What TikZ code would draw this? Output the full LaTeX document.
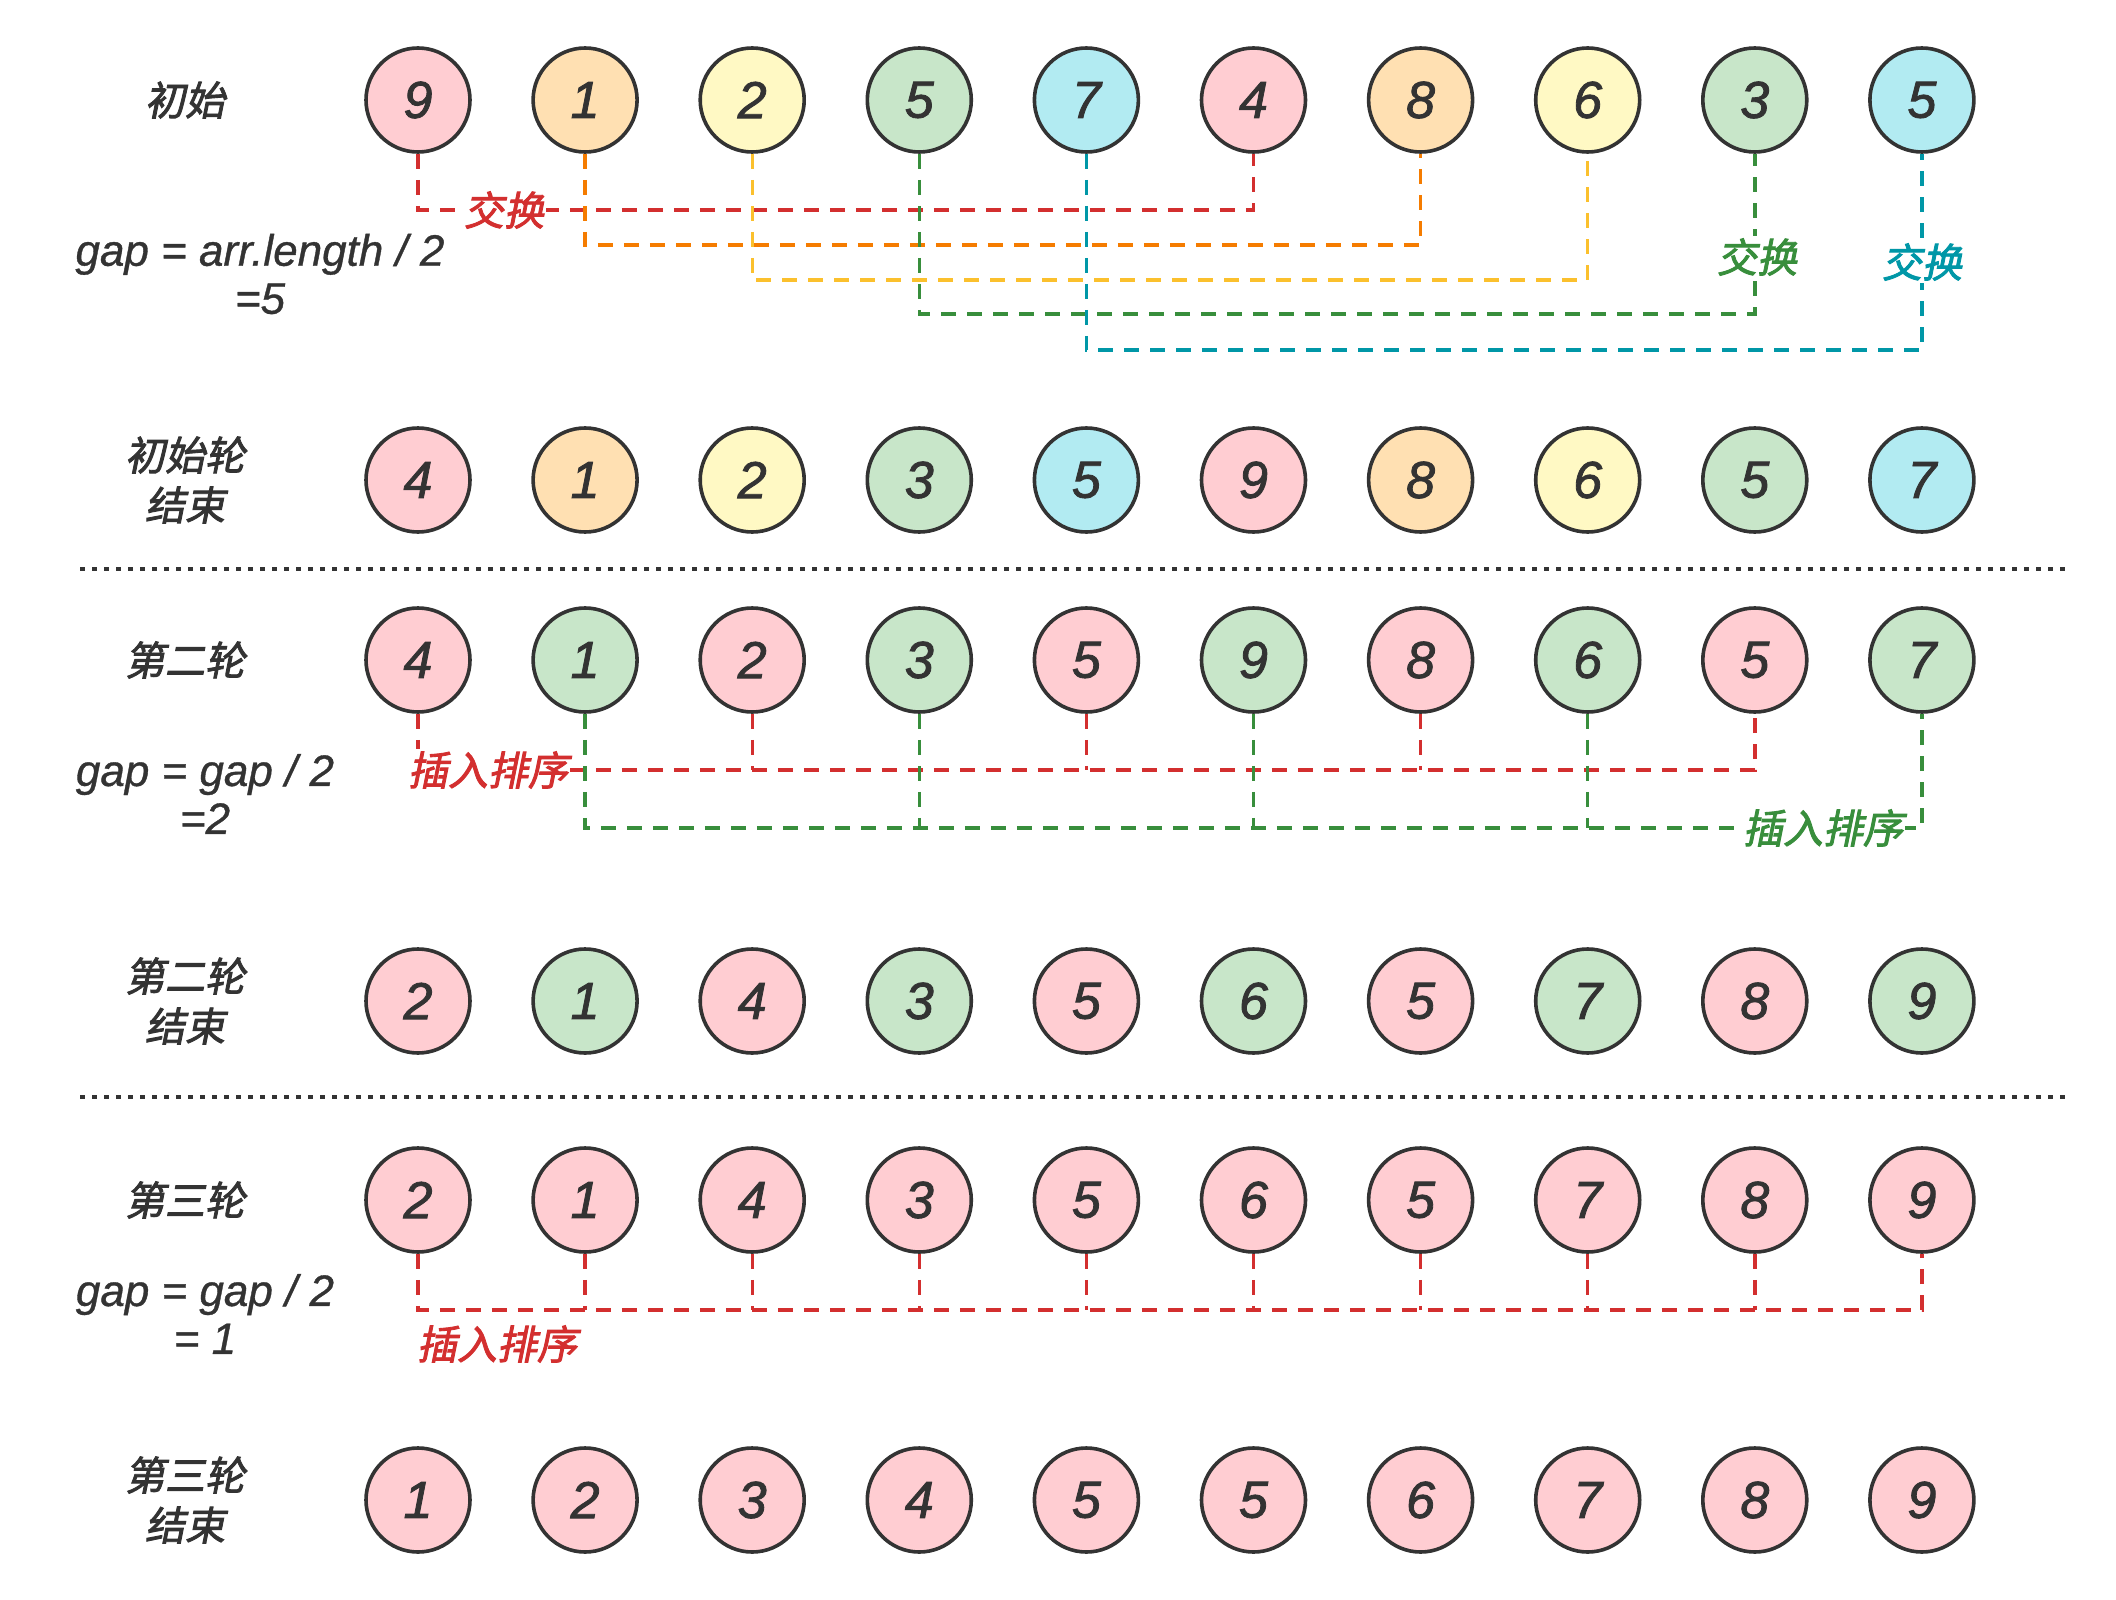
\documentclass[tikz,border=0pt]{standalone}
\usepackage{fontspec}
\setmainfont{Liberation Sans}
\newfontfamily\digitfont[FakeBold=1.6]{Liberation Sans}
\newfontfamily\gapfont[FakeBold=0.8]{Liberation Sans}
\newfontfamily\cjk[FakeSlant=0.2,FakeBold=2.2]{Noto Sans CJK SC}
\definecolor{ink}{HTML}{333333}
\definecolor{fP}{HTML}{FFCDD2}
\definecolor{fO}{HTML}{FFE0B2}
\definecolor{fY}{HTML}{FFF9C4}
\definecolor{fG}{HTML}{C8E6C9}
\definecolor{fC}{HTML}{B2EBF2}
\definecolor{cR}{HTML}{D32F2F}
\definecolor{cO}{HTML}{F57C00}
\definecolor{cY}{HTML}{FBC02D}
\definecolor{cG}{HTML}{388E3C}
\definecolor{cT}{HTML}{0097A7}
\begin{document}
\begin{tikzpicture}[x=0.5pt,y=-0.5pt,
  ball/.style={circle, draw=ink, line width=1.8pt, minimum size=52pt, inner sep=0pt,
    font=\digitfont\fontsize{26}{30}\selectfont\itshape, text=ink},
  conn/.style={line width=1.7pt, dash pattern=on 7.5pt off 5.5pt},
  seprule/.style={line width=2pt, draw=ink, dash pattern=on 2.5pt off 3.5pt},
  rowlab/.style={font=\cjk\fontsize{20}{25}\selectfont, text=ink, align=center},
  gaplab/.style={font=\gapfont\fontsize{22}{24}\selectfont\itshape, text=ink, align=center},
  oplab/.style={font=\cjk\fontsize{20}{24}\selectfont, inner sep=1pt},
]
\useasboundingbox (0,0) rectangle (2116,1600);

% rows of balls
\foreach \v/\f [count=\c] in {9/P,1/O,2/Y,5/G,7/C,4/P,8/O,6/Y,3/G,5/C}
  \node[ball, fill=f\f] (r1c\c) at ({418+(\c-1)*167.1},100) {\v};
\foreach \v/\f [count=\c] in {4/P,1/O,2/Y,3/G,5/C,9/P,8/O,6/Y,5/G,7/C}
  \node[ball, fill=f\f] (r2c\c) at ({418+(\c-1)*167.1},480) {\v};
\foreach \v/\f [count=\c] in {4/P,1/G,2/P,3/G,5/P,9/G,8/P,6/G,5/P,7/G}
  \node[ball, fill=f\f] (r3c\c) at ({418+(\c-1)*167.1},660) {\v};
\foreach \v/\f [count=\c] in {2/P,1/G,4/P,3/G,5/P,6/G,5/P,7/G,8/P,9/G}
  \node[ball, fill=f\f] (r4c\c) at ({418+(\c-1)*167.1},1001) {\v};
\foreach \v [count=\c] in {2,1,4,3,5,6,5,7,8,9}
  \node[ball, fill=fP] (r5c\c) at ({418+(\c-1)*167.1},1200) {\v};
\foreach \v [count=\c] in {1,2,3,4,5,5,6,7,8,9}
  \node[ball, fill=fP] (r6c\c) at ({418+(\c-1)*167.1},1500) {\v};

% row labels
\node[rowlab] (l1) at (185,100) {初始};
\node[rowlab] (l2) at (185,480) {初始轮\\结束};
\node[rowlab] (l3) at (185,660) {第二轮};
\node[rowlab] (l4) at (185,1001) {第二轮\\结束};
\node[rowlab] (l5) at (185,1200) {第三轮};
\node[rowlab] (l6) at (185,1500) {第三轮\\结束};

\node[gaplab] (g1) at (260,274) {gap = arr.length / 2\\=5};
\node[gaplab] (g2) at (205,794) {gap = gap / 2\\=2};
\node[gaplab] (g3) at (205,1314) {gap = gap / 2\\= 1};

% separators
\coordinate (s1a) at (80,569);  \coordinate (s1b) at (2066,569);
\coordinate (s2a) at (80,1097); \coordinate (s2b) at (2066,1097);
\draw[seprule] (s1a) -- (s1b);
\draw[seprule] (s2a) -- (s2b);

% levels of horizontal connector runs
\coordinate (h1) at (0,210);
\coordinate (h2) at (0,245);
\coordinate (h3) at (0,280);
\coordinate (h4) at (0,314);
\coordinate (h5) at (0,350);
\coordinate (k1) at (0,770);
\coordinate (k2) at (0,828);
\coordinate (m1) at (0,1310);

% round 1: swaps
\draw[conn, cR] (r1c1.south) |- (r1c6.south |- h1) -- (r1c6.south);
\draw[conn, cO] (r1c2.south) |- (r1c7.south |- h2) -- (r1c7.south);
\draw[conn, cY] (r1c3.south) |- (r1c8.south |- h3) -- (r1c8.south);
\draw[conn, cG] (r1c4.south) |- (r1c9.south |- h4) -- (r1c9.south);
\draw[conn, cT] (r1c5.south) |- (r1c10.south |- h5) -- (r1c10.south);
\node[oplab, text=cR, fill=white] (t1) at (504,210) {交换};
\node[oplab, text=cG, fill=white] (t2) at (1757,257) {交换};
\node[oplab, text=cT, fill=white] (t3) at (1922,262) {交换};

% round 2: insertion sort on two groups
\draw[conn, cR] (r3c1.south) |- (r3c9.south |- k1) -- (r3c9.south);
\foreach \c in {3,5,7} \draw[conn, cR] (r3c\c.south) -- (r3c\c.south |- k1);
\draw[conn, cG] (r3c2.south) |- (r3c10.south |- k2) -- (r3c10.south);
\foreach \c in {4,6,8} \draw[conn, cG] (r3c\c.south) -- (r3c\c.south |- k2);
\node[oplab, text=cR, fill=white] (t4) at (488,770) {插入排序};
\node[oplab, text=cG, fill=white] (t5) at (1823,828) {插入排序};

% round 3: insertion sort on all
\draw[conn, cR] (r5c1.south) |- (r5c10.south |- m1) -- (r5c10.south);
\foreach \c in {2,...,9} \draw[conn, cR] (r5c\c.south) -- (r5c\c.south |- m1);
\node[oplab, text=cR] (t6) at (497,1344) {插入排序};
\end{tikzpicture}
\end{document}
